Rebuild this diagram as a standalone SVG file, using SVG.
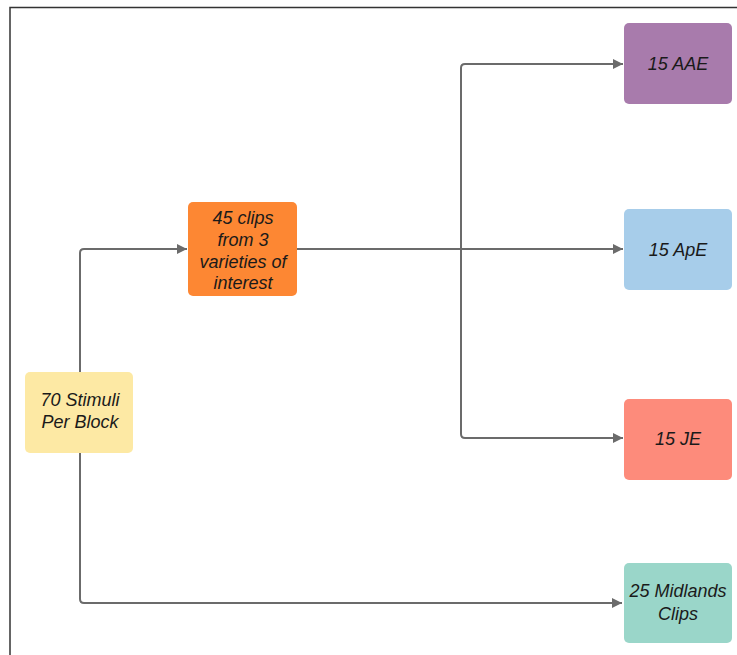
<svg xmlns="http://www.w3.org/2000/svg" width="737" height="655" viewBox="0 0 737 655">
<defs>
<style>
.node rect{stroke:none}
text{font-family:"Liberation Sans",Arial,sans-serif;font-size:18px;font-style:italic;fill:#1a1a1a;text-anchor:middle}
.conn path{fill:none;stroke:#6b6b6b;stroke-width:2}
</style>
<marker id="arr" viewBox="0 0 10 10" refX="10" refY="5" markerWidth="12" markerHeight="10" markerUnits="userSpaceOnUse" orient="auto">
<path d="M0,0 L10,5 L0,10 z" fill="#6b6b6b"/>
</marker>
</defs>
<rect width="737" height="655" fill="#fff"/>
<path d="M10,655 V7.5 H737" fill="none" stroke="#333" stroke-width="1.5"/>
<g class="conn">
<path d="M80,372 V253 Q80,249 84,249 H187" marker-end="url(#arr)"/>
<path d="M80,453 V599 Q80,603 84,603 H622" marker-end="url(#arr)"/>
<path d="M297,249 H623" marker-end="url(#arr)"/>
<path d="M461,249 V68 Q461,64 465,64 H623" marker-end="url(#arr)"/>
<path d="M461,249 V434 Q461,438 465,438 H623" marker-end="url(#arr)"/>
</g>
<g id="n-stimuli" class="node"><rect x="25" y="372" width="108" height="81" rx="5" fill="#fde9a4"/><text x="80" y="406">70 Stimuli</text><text x="80" y="428">Per Block</text></g>
<g id="n-clips" class="node"><rect x="188" y="202" width="109" height="94" rx="5" fill="#fd8733"/><text x="243" y="224">45 clips</text><text x="243" y="246">from 3</text><text x="243" y="268">varieties of</text><text x="243" y="289">interest</text></g>
<g id="n-aae" class="node"><rect x="624" y="23" width="108" height="81" rx="5" fill="#a87bac"/><text x="678" y="70">15 AAE</text></g>
<g id="n-ape" class="node"><rect x="624" y="209" width="108" height="81" rx="5" fill="#a7cdea"/><text x="678" y="256">15 ApE</text></g>
<g id="n-je" class="node"><rect x="624" y="399" width="108" height="81" rx="5" fill="#fd8b7b"/><text x="678" y="445">15 JE</text></g>
<g id="n-midlands" class="node"><rect x="624" y="563" width="108" height="80" rx="5" fill="#9ad6c9"/><text x="678" y="597">25 Midlands</text><text x="678" y="620">Clips</text></g>
</svg>
